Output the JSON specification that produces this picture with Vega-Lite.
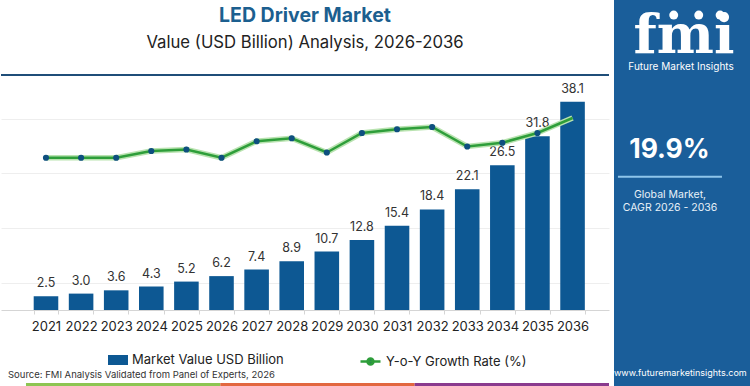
{
  "$schema": "https://vega.github.io/schema/vega-lite/v6.json",
  "background": "white",
  "padding": {"left": 0, "top": 0, "right": 2, "bottom": 0},
  "spacing": 4,
  "config": {
    "view": {"stroke": null},
    "font": "Inter",
    "concat": {"spacing": 4}
  },
  "datasets": {
    "market": [
      {"year": "2021", "value": 2.5, "growth": 20.3},
      {"year": "2022", "value": 3.0, "growth": 20.3},
      {"year": "2023", "value": 3.6, "growth": 20.3},
      {"year": "2024", "value": 4.3, "growth": 21.2},
      {"year": "2025", "value": 5.2, "growth": 21.4},
      {"year": "2026", "value": 6.2, "growth": 20.3},
      {"year": "2027", "value": 7.4, "growth": 22.5},
      {"year": "2028", "value": 8.9, "growth": 22.9},
      {"year": "2029", "value": 10.7, "growth": 21.0},
      {"year": "2030", "value": 12.8, "growth": 23.6},
      {"year": "2031", "value": 15.4, "growth": 24.1},
      {"year": "2032", "value": 18.4, "growth": 24.4},
      {"year": "2033", "value": 22.1, "growth": 21.8},
      {"year": "2034", "value": 26.5, "growth": 22.3},
      {"year": "2035", "value": 31.8, "growth": 23.6},
      {"year": "2036", "value": 38.1, "growth": 25.6}
    ]
  },
  "resolve": {"scale": {"x": "independent", "y": "independent", "color": "independent"}},
  "hconcat": [
    {
      "spacing": 2,
      "resolve": {"scale": {"x": "independent", "y": "independent", "color": "independent"}},
      "vconcat": [
        {
          "width": 608,
          "height": 235,
          "data": {"name": "market"},
          "title": {
            "text": "LED Driver Market",
            "subtitle": "Value (USD Billion) Analysis, 2026-2036",
            "anchor": "middle",
            "font": "Inter",
            "fontSize": 19.5,
            "fontWeight": "bold",
            "color": "#1c5f8f",
            "subtitleFont": "Inter",
            "subtitleFontSize": 16.7,
            "subtitleColor": "#222222",
            "subtitlePadding": 9,
            "offset": 21
          },
          "layer": [
            {
              "layer": [
                {
                  "mark": {"type": "bar", "color": "#0d5893"},
                  "encoding": {
                    "x": {
                      "field": "year",
                      "type": "ordinal",
                      "scale": {"paddingInner": 0.3, "paddingOuter": 0.81, "align": 0.575},
                      "axis": {
                        "title": null,
                        "labelAngle": 0,
                        "labelFontSize": 13,
                        "labelColor": "#222222",
                        "labelPadding": 6,
                        "tickSize": 4,
                        "tickColor": "#d5d5d5",
                        "domainColor": "#d5d5d5",
                        "tickBand": "extent",
                        "grid": false
                      }
                    },
                    "y": {
                      "field": "value",
                      "type": "quantitative",
                      "scale": {"domain": [0, 43], "nice": false},
                      "axis": {
                        "title": null,
                        "labels": false,
                        "ticks": false,
                        "domain": false,
                        "grid": true,
                        "gridColor": "#eeeeee",
                        "values": [5, 10, 15, 20, 25, 30, 35, 40]
                      }
                    },
                    "color": {
                      "datum": "Market Value USD Billion",
                      "type": "nominal",
                      "scale": {"domain": ["Market Value USD Billion"], "range": ["#0d5893"]},
                      "legend": {
                        "orient": "none",
                        "legendX": 107,
                        "legendY": 275,
                        "title": null,
                        "padding": 0,
                        "labelFont": "Inter",
                        "labelFontSize": 13,
                        "labelLimit": 400,
                        "labelColor": "#222222",
                        "labelOffset": 4,
                        "symbolSize": 400,
                        "encode": {
                          "symbols": {
                            "update": {
                              "shape": {"value": "M-1,-0.5H1V0.5H-1Z"},
                              "fill": {"value": "#0d5893"},
                              "strokeWidth": {"value": 0},
                              "opacity": {"value": 1},
                              "fillOpacity": {"value": 1}
                            }
                          }
                        }
                      }
                    }
                  }
                },
                {
                  "mark": {"type": "text", "baseline": "middle", "dy": -13, "fontSize": 12.5, "color": "#333333"},
                  "encoding": {
                    "x": {"field": "year", "type": "ordinal"},
                    "y": {"field": "value", "type": "quantitative"},
                    "text": {"field": "value", "type": "quantitative", "format": ".1f"}
                  }
                },
                {
                  "mark": {"type": "rule", "color": "#1f4e79", "strokeWidth": 2},
                  "encoding": {"y": {"datum": 43, "type": "quantitative"}}
                }
              ]
            },
            {
              "layer": [
                {
                  "mark": {"type": "line", "color": "#b9e3b0", "strokeWidth": 5.5},
                  "encoding": {
                    "x": {"field": "year", "type": "ordinal"},
                    "y": {"field": "growth", "type": "quantitative", "scale": {"domain": [0, 31.33], "nice": false}, "axis": null}
                  }
                },
                {
                  "mark": {"type": "line", "strokeWidth": 2.5},
                  "encoding": {
                    "x": {"field": "year", "type": "ordinal"},
                    "y": {"field": "growth", "type": "quantitative", "axis": null},
                    "stroke": {
                      "datum": "Y-o-Y Growth Rate (%)",
                      "type": "nominal",
                      "scale": {"domain": ["Y-o-Y Growth Rate (%)"], "range": ["#2e9e3a"]},
                      "legend": {
                        "orient": "none",
                        "legendX": 358,
                        "legendY": 275,
                        "title": null,
                        "padding": 0,
                        "labelFont": "Inter",
                        "labelFontSize": 13,
                        "labelLimit": 400,
                        "labelColor": "#222222",
                        "labelOffset": 4,
                        "symbolSize": 400,
                        "encode": {
                          "symbols": {
                            "update": {
                              "shape": {"value": "M-1,0H1M0.3,0A0.3,0.3,0,1,1,-0.3,0A0.3,0.3,0,1,1,0.3,0"},
                              "fill": {"value": "#0e4f7f"},
                              "stroke": {"value": "#2e9e3a"},
                              "strokeWidth": {"value": 2.5},
                              "opacity": {"value": 1},
                              "fillOpacity": {"value": 1}
                            }
                          }
                        }
                      }
                    }
                  }
                },
                {
                  "transform": [{"filter": "datum.year != '2036'"}],
                  "mark": {"type": "point", "filled": true, "color": "#0e4f7f", "size": 38, "opacity": 1},
                  "encoding": {
                    "x": {"field": "year", "type": "ordinal"},
                    "y": {"field": "growth", "type": "quantitative", "axis": null}
                  }
                }
              ]
            }
          ],
          "resolve": {"scale": {"y": "independent"}}
        },
        {
          "width": 608,
          "height": 4,
          "data": {"values": [{"segment": "Green"}, {"segment": "Orange"}, {"segment": "Purple"}]},
          "title": {
            "text": "Source: FMI Analysis Validated from Panel of Experts, 2026",
            "anchor": "start",
            "font": "Inter",
            "fontSize": 9.5,
            "fontWeight": "normal",
            "color": "#333333",
            "dx": 7,
            "offset": 4
          },
          "mark": "rect",
          "encoding": {
            "x": {"field": "segment", "type": "nominal", "scale": {"paddingInner": 0, "paddingOuter": 0.0643, "align": 1}, "axis": null},
            "color": {"field": "segment", "type": "nominal", "scale": {"domain": ["Green", "Orange", "Purple"], "range": ["#8dc552", "#e2673f", "#8a3a8e"]}, "legend": null}
          }
        }
      ]
    },
    {
      "width": 136,
      "height": 311,
      "data": {"values": [{}]},
      "layer": [
        {
          "mark": {"type": "rect", "color": "#1a5e9a"},
          "encoding": {
            "x": {"datum": 0, "type": "quantitative", "scale": {"domain": [0, 1]}, "axis": null},
            "x2": {"datum": 1},
            "y": {"datum": 0, "type": "quantitative", "scale": {"domain": [0, 1], "range": [-75, 311]}, "axis": null},
            "y2": {"datum": 1}
          }
        },
        {
          "mark": {"type": "text", "text": "fmi", "font": "DejaVu Serif", "fontWeight": "bold", "fontSize": 54, "color": "white", "align": "center", "baseline": "alphabetic"},
          "encoding": {
            "x": {"datum": 0.515, "type": "quantitative", "axis": null},
            "y": {"datum": 0.137, "type": "quantitative", "axis": null}
          }
        },
        {
          "mark": {"type": "point", "filled": true, "color": "white", "size": 80, "opacity": 1},
          "encoding": {
            "x": {"datum": 0.439, "type": "quantitative", "axis": null},
            "y": {"datum": 0.039, "type": "quantitative", "axis": null}
          }
        },
        {
          "mark": {"type": "point", "filled": true, "color": "white", "size": 80, "opacity": 1},
          "encoding": {
            "x": {"datum": 0.623, "type": "quantitative", "axis": null},
            "y": {"datum": 0.039, "type": "quantitative", "axis": null}
          }
        },
        {
          "mark": {"type": "point", "filled": true, "color": "white", "size": 80, "opacity": 1},
          "encoding": {
            "x": {"datum": 0.78, "type": "quantitative", "axis": null},
            "y": {"datum": 0.039, "type": "quantitative", "axis": null}
          }
        },
        {
          "mark": {"type": "text", "text": "Future Market Insights", "fontSize": 10, "color": "white", "align": "center", "baseline": "middle"},
          "encoding": {
            "x": {"datum": 0.493, "type": "quantitative", "axis": null},
            "y": {"datum": 0.174, "type": "quantitative", "axis": null}
          }
        },
        {
          "mark": {"type": "text", "text": "19.9%", "fontSize": 26.5, "fontWeight": "bold", "color": "white", "align": "center", "baseline": "middle"},
          "encoding": {
            "x": {"datum": 0.408, "type": "quantitative", "axis": null},
            "y": {"datum": 0.389, "type": "quantitative", "axis": null}
          }
        },
        {
          "mark": {"type": "rule", "color": "#8ec5ea", "strokeWidth": 2},
          "encoding": {
            "x": {"datum": 0.029, "type": "quantitative", "axis": null},
            "x2": {"datum": 0.794},
            "y": {"datum": 0.458, "type": "quantitative", "axis": null}
          }
        },
        {
          "mark": {"type": "text", "text": "Global Market,", "fontSize": 10.5, "color": "#e8f1f8", "align": "center", "baseline": "middle"},
          "encoding": {
            "x": {"datum": 0.412, "type": "quantitative", "axis": null},
            "y": {"datum": 0.506, "type": "quantitative", "axis": null}
          }
        },
        {
          "mark": {"type": "text", "text": "CAGR 2026 - 2036", "fontSize": 10.5, "color": "#e8f1f8", "align": "center", "baseline": "middle"},
          "encoding": {
            "x": {"datum": 0.412, "type": "quantitative", "axis": null},
            "y": {"datum": 0.54, "type": "quantitative", "axis": null}
          }
        },
        {
          "mark": {"type": "text", "text": "www.futuremarketinsights.com", "fontSize": 9, "color": "white", "align": "left", "baseline": "middle"},
          "encoding": {
            "x": {"datum": 0.0, "type": "quantitative", "axis": null},
            "y": {"datum": 0.966, "type": "quantitative", "axis": null}
          }
        }
      ]
    }
  ]
}
